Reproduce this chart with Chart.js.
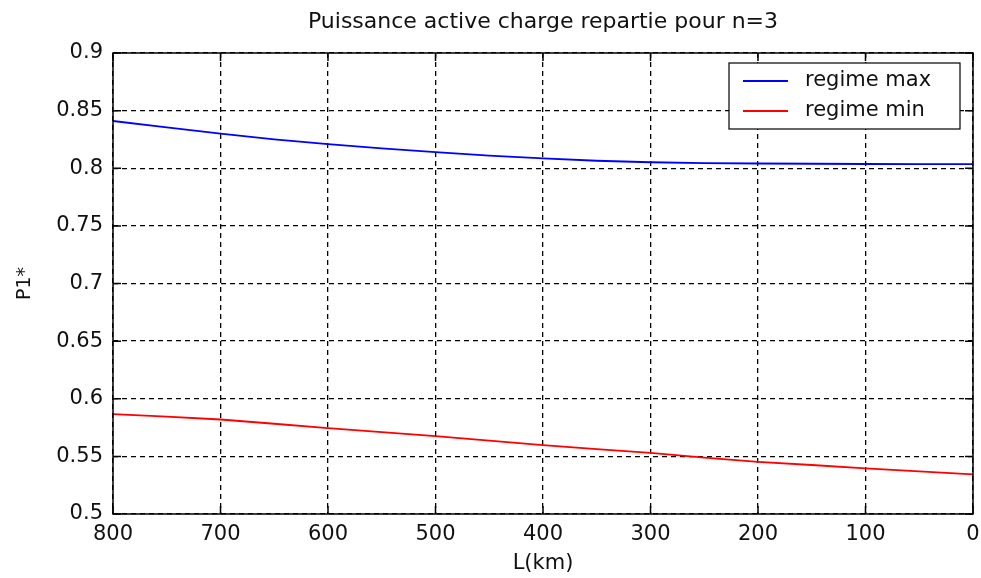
<!DOCTYPE html>
<html>
<head>
<meta charset="utf-8">
<script src="https://cdn.jsdelivr.net/npm/chart.js@4.4.1/dist/chart.umd.min.js"></script>
<style>
  html, body { margin: 0; padding: 0; background: #fff; }
  #wrap { width: 981px; height: 578px; }
</style>
</head>
<body>
<div id="wrap"><canvas id="p1Chart" width="981" height="578"></canvas></div>
<script>
// ====== Data ======
const lengthKm = [800, 750, 700, 650, 600, 550, 500, 450, 400, 350, 300, 250, 200, 150, 100, 50, 0];
const regimeMax = [0.841, 0.8355, 0.830, 0.825, 0.821, 0.8172, 0.814, 0.811, 0.8085, 0.8065, 0.8052, 0.8045, 0.8041, 0.8039, 0.8037, 0.8036, 0.8035];
const regimeMin = [0.5866, 0.5845, 0.582, 0.5783, 0.5745, 0.571, 0.5675, 0.5637, 0.5598, 0.5563, 0.553, 0.549, 0.5453, 0.5425, 0.5395, 0.537, 0.5344];
const xTicks = [800, 700, 600, 500, 400, 300, 200, 100, 0];
const yTicks = [0.5, 0.55, 0.6, 0.65, 0.7, 0.75, 0.8, 0.85, 0.9];

const FONT = "'DejaVu Sans', Arial, sans-serif";

function toPoints(ys) {
  return lengthKm.map((x, i) => ({ x: x, y: ys[i] }));
}

// ====== Frame, inward ticks and legend box ======
const framePlugin = {
  id: "frame",
  afterDraw(chart) {
    const ctx = chart.ctx;
    const a = chart.chartArea;
    const xs = chart.scales.x, ys = chart.scales.y;
    const tl = 8;
    ctx.save();
    ctx.strokeStyle = "#000";
    ctx.lineWidth = 1.5;
    ctx.strokeRect(a.left, a.top, a.right - a.left, a.bottom - a.top);
    ctx.beginPath();
    xTicks.forEach(v => {
      const px = xs.getPixelForValue(v);
      ctx.moveTo(px, a.bottom); ctx.lineTo(px, a.bottom - tl);
      ctx.moveTo(px, a.top); ctx.lineTo(px, a.top + tl);
    });
    yTicks.forEach(v => {
      const py = ys.getPixelForValue(v);
      ctx.moveTo(a.left, py); ctx.lineTo(a.left + tl, py);
      ctx.moveTo(a.right, py); ctx.lineTo(a.right - tl, py);
    });
    ctx.stroke();

    // legend
    const bx = 729, by = 63, bw = 231, bh = 66;
    ctx.fillStyle = "#fff";
    ctx.fillRect(bx, by, bw, bh);
    ctx.lineWidth = 1.2;
    ctx.strokeStyle = "#000";
    ctx.strokeRect(bx, by, bw, bh);
    ctx.font = "21px " + FONT;
    ctx.textBaseline = "middle";
    chart.data.datasets.forEach((ds, i) => {
      const ry = by + 18 + i * 30;
      ctx.strokeStyle = ds.borderColor;
      ctx.lineWidth = 1.8;
      ctx.beginPath();
      ctx.moveTo(bx + 14, ry); ctx.lineTo(bx + 59, ry);
      ctx.stroke();
      ctx.fillStyle = "#111";
      ctx.fillText(ds.label, bx + 76, ry);
    });
    ctx.restore();
  }
};

// ====== Chart ======
new Chart(document.getElementById("p1Chart"), {
  type: "line",
  data: {
    datasets: [
      { label: "regime max", data: toPoints(regimeMax), borderColor: "#0000ff", borderWidth: 1.8, pointRadius: 0, tension: 0 },
      { label: "regime min", data: toPoints(regimeMin), borderColor: "#ff0000", borderWidth: 1.8, pointRadius: 0, tension: 0 }
    ]
  },
  options: {
    responsive: false,
    animation: false,
    events: [],
    layout: { padding: { left: 0, right: 8, top: 0, bottom: 0 } },
    plugins: {
      legend: { display: false },
      tooltip: { enabled: false },
      title: {
        display: true,
        fullSize: false,
        text: "Puissance active charge repartie pour n=3",
        color: "#111",
        font: { family: FONT, size: 22, weight: "normal" },
        padding: { top: 9, bottom: 17.6 }
      }
    },
    scales: {
      x: {
        type: "linear",
        reverse: true,
        min: 0,
        max: 800,
        afterBuildTicks: s => { s.ticks = xTicks.map(v => ({ value: v })); },
        afterFit: s => { s.height = 64; s.paddingLeft = 0; s.paddingRight = 0; },
        grid: { color: "#000", lineWidth: 1.3, drawTicks: false },
        border: { display: false, dash: [5, 4] },
        ticks: { color: "#111", font: { family: FONT, size: 21 }, padding: 8, maxRotation: 0 },
        title: { display: true, text: "L(km)", color: "#111", font: { family: FONT, size: 21 }, padding: { top: 0, bottom: 2 } }
      },
      y: {
        min: 0.5,
        max: 0.9,
        afterBuildTicks: s => { s.ticks = yTicks.map(v => ({ value: v })); },
        afterFit: s => { s.width = 113; },
        grid: { color: "#000", lineWidth: 1.3, drawTicks: false },
        border: { display: false, dash: [5, 4] },
        ticks: { color: "#111", font: { family: FONT, size: 21 }, padding: 10, callback: v => String(+v.toFixed(2)) },
        title: { display: true, text: "P1*", color: "#111", font: { family: FONT, size: 19 }, padding: { top: 14, bottom: 0 } }
      }
    }
  },
  plugins: [framePlugin]
});
</script>
</body>
</html>
